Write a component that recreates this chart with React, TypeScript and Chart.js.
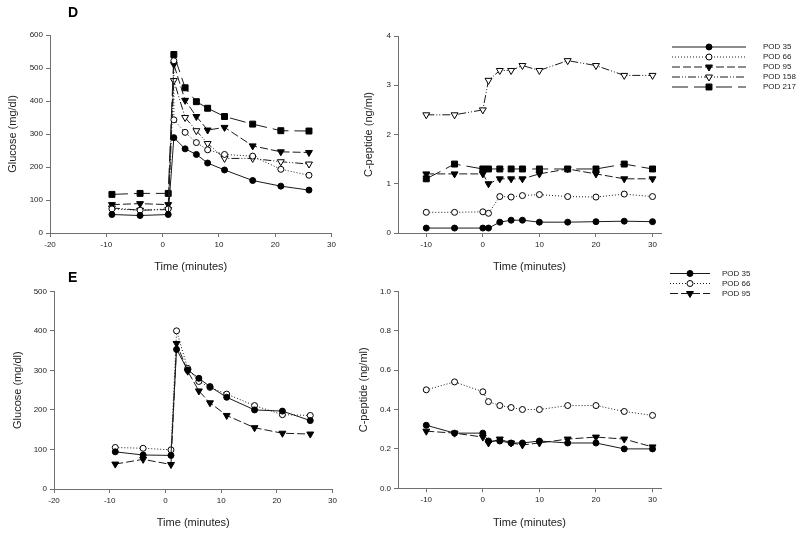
import React, { useEffect, useRef } from "react";
import { Chart, registerables } from "chart.js";
import { drawPoint } from "chart.js/helpers";

Chart.register(...registerables);

// ---------- DATA ----------
const seriesLabels = ["POD 35", "POD 66", "POD 95", "POD 158", "POD 217"];

// Panel D – glucose
const glucoseTimesD = [-9, -4, 1, 2, 4, 6, 8, 11, 16, 21, 26];
const glucoseTimesD66 = [-9, -4, 1, 2, 2, 4, 6, 8, 11, 16, 21, 26];
const glucoseD35 = [56, 53, 56, 289, 255, 238, 212, 191, 159, 142, 130];
const glucoseD66 = [73, 69, 73, 522, 343, 305, 274, 252, 238, 233, 193, 175];
const glucoseD95 = [86, 89, 86, 511, 402, 353, 312, 320, 264, 246, 244];
const glucoseD158 = [76, 69, 71, 462, 350, 310, 271, 226, 226, 216, 209];
const glucoseD217 = [117, 120, 120, 541, 440, 398, 378, 353, 330, 310, 309];

// Panel D – C-peptide
const cpepTimes = [-10, -5, 0, 1, 3, 5, 7, 10, 15, 20, 25, 30];
const cpepD35 = [0.1, 0.1, 0.1, 0.1, 0.22, 0.26, 0.26, 0.22, 0.22, 0.23, 0.24, 0.23];
const cpepD66 = [0.42, 0.42, 0.43, 0.4, 0.74, 0.73, 0.76, 0.78, 0.74, 0.73, 0.79, 0.74];
const cpepD95 = [1.2, 1.2, 1.2, 1.0, 1.1, 1.1, 1.1, 1.2, 1.3, 1.2, 1.1, 1.1];
const cpepD158 = [2.4, 2.4, 2.5, 3.1, 3.3, 3.3, 3.4, 3.3, 3.5, 3.4, 3.2, 3.2];
const cpepD217 = [1.1, 1.4, 1.3, 1.3, 1.3, 1.3, 1.3, 1.3, 1.3, 1.3, 1.4, 1.3];

// Panel E – glucose
const glucoseTimesE = [-9, -4, 1, 2, 4, 6, 8, 11, 16, 21, 26];
const glucoseE35 = [94, 86, 85, 353, 301, 280, 259, 232, 200, 197, 173];
const glucoseE66 = [105, 103, 99, 400, 305, 272, 257, 240, 211, 188, 186];
const glucoseE95 = [63, 75, 62, 368, 298, 248, 218, 186, 155, 141, 139];

// Panel E – C-peptide
const cpepE35 = [0.32, 0.28, 0.28, 0.24, 0.24, 0.23, 0.23, 0.24, 0.23, 0.23, 0.2, 0.2];
const cpepE66 = [0.5, 0.54, 0.49, 0.44, 0.42, 0.41, 0.4, 0.4, 0.42, 0.42, 0.39, 0.37];
const cpepE95 = [0.29, 0.28, 0.26, 0.23, 0.25, 0.23, 0.22, 0.23, 0.25, 0.26, 0.25, 0.21];

// Tick values
const glucoseXTicks = [-20, -10, 0, 10, 20, 30];
const cpepXTicks = [-10, 0, 10, 20, 30];
const glucoseYTicksD = [0, 100, 200, 300, 400, 500, 600];
const cpepYTicksD = [0, 1, 2, 3, 4];
const glucoseYTicksE = [0, 100, 200, 300, 400, 500];
const cpepYTicksE = [0, 0.2, 0.4, 0.6, 0.8, 1.0];

// ---------- STYLES ----------
const FONT = "'Liberation Sans', Arial, Helvetica, sans-serif";
const LINE = "#1a1a1a";
const AXIS = "#707070";
const TEXT = "#222";

const seriesStyles: Record<string, any> = {
  "POD 35": { dash: [], pointStyle: "circle", fill: "#000", radius: 3, rotation: 0 },
  "POD 66": { dash: [1, 2], pointStyle: "circle", fill: "#fff", radius: 3, rotation: 0 },
  "POD 95": { dash: [8, 3], pointStyle: "triangle", fill: "#000", radius: 4, rotation: 180 },
  "POD 158": { dash: [8, 2, 1, 2, 1, 2], pointStyle: "triangle", fill: "#fff", radius: 4, rotation: 180 },
  "POD 217": { dash: [16, 6], pointStyle: "rect", fill: "#000", radius: 4.2, rotation: 0 },
};

function makeDataset(label: string, xs: number[], ys: number[]) {
  const s = seriesStyles[label];
  return {
    label,
    data: xs.map((x, i) => ({ x, y: ys[i] })),
    borderColor: LINE,
    borderWidth: 1,
    borderDash: s.dash,
    pointStyle: s.pointStyle,
    pointRotation: s.rotation,
    pointRadius: s.radius,
    pointBackgroundColor: s.fill,
    pointBorderColor: "#000",
    pointBorderWidth: 1,
    tension: 0,
    fill: false,
  };
}

const lineLegendPlugin = {
  id: "lineLegend",
  afterDraw(chart: any, _args: any, opts: any) {
    if (!opts || !opts.rows) return;
    const { ctx } = chart;
    chart.data.datasets.forEach((ds: any, i: number) => {
      const y = opts.rows[i];
      ctx.save();
      ctx.strokeStyle = ds.borderColor;
      ctx.lineWidth = 1;
      ctx.setLineDash(ds.borderDash || []);
      ctx.beginPath();
      ctx.moveTo(opts.x1, y);
      ctx.lineTo(opts.x2, y);
      ctx.stroke();
      ctx.setLineDash([]);
      ctx.fillStyle = ds.pointBackgroundColor;
      ctx.strokeStyle = ds.pointBorderColor;
      ctx.lineWidth = 1;
      drawPoint(ctx, { pointStyle: ds.pointStyle, rotation: ds.pointRotation, radius: ds.pointRadius, borderWidth: 1 } as any, (opts.x1 + opts.x2) / 2, y);
      ctx.fillStyle = TEXT;
      ctx.font = `8px ${FONT}`;
      ctx.textBaseline = "middle";
      ctx.textAlign = "left";
      ctx.fillText(ds.label, opts.tx, y);
      ctx.restore();
    });
  },
};

const letterPlugin = {
  id: "panelLetter",
  afterDraw(chart: any, _args: any, opts: any) {
    if (!opts || !opts.text) return;
    const { ctx } = chart;
    ctx.save();
    ctx.fillStyle = "#000";
    ctx.font = `bold 14px ${FONT}`;
    ctx.textBaseline = "middle";
    ctx.textAlign = "left";
    ctx.fillText(opts.text, opts.x, opts.y);
    ctx.restore();
  },
};

function makeConfig(p: any) {
  return {
    type: "line",
    data: { datasets: p.datasets },
    plugins: [lineLegendPlugin, letterPlugin],
    options: {
      animation: false,
      responsive: false,
      layout: { padding: { left: 0, top: p.top, right: p.right, bottom: p.bottom } },
      plugins: {
        legend: { display: false },
        tooltip: { enabled: false },
        lineLegend: p.legend || {},
        panelLetter: p.letter || {},
      },
      scales: {
        x: {
          type: "linear",
          min: p.xMin,
          max: p.xMax,
          afterBuildTicks: (s: any) => {
            s.ticks = p.xTicks.map((v: number) => ({ value: v }));
          },
          afterFit: (s: any) => {
            s.height = p.xHeight;
          },
          grid: { display: true, drawOnChartArea: false, drawTicks: true, tickLength: 4, color: AXIS, lineWidth: 1 },
          border: { display: true, color: AXIS, width: 1 },
          ticks: { font: { size: 8, family: FONT }, color: TEXT, padding: 3, maxRotation: 0, autoSkip: false },
          title: { display: true, text: "Time (minutes)", font: { size: 11, family: FONT }, color: TEXT, padding: 0 },
        },
        y: {
          type: "linear",
          min: p.yMin,
          max: p.yMax,
          afterBuildTicks: (s: any) => {
            s.ticks = p.yTicks.map((v: number) => ({ value: v }));
          },
          afterFit: (s: any) => {
            s.width = p.yWidth;
          },
          grid: { display: true, drawOnChartArea: false, drawTicks: true, tickLength: 4, color: AXIS, lineWidth: 1 },
          border: { display: true, color: AXIS, width: 1 },
          ticks: {
            font: { size: 8, family: FONT },
            color: TEXT,
            padding: 3,
            autoSkip: false,
            callback: (v: any) => Number(v).toFixed(p.yDecimals),
          },
          title: { display: true, text: p.yTitle, font: { size: 11, family: FONT }, color: TEXT, padding: { top: p.yTitlePad, bottom: 0 } },
        },
      },
    },
  };
}

function Panel({ left, top, width, height, params }: any) {
  const ref = useRef<HTMLCanvasElement>(null);
  useEffect(() => {
    const chart = new Chart(ref.current as HTMLCanvasElement, makeConfig(params) as any);
    return () => chart.destroy();
  }, []);
  return (
    <canvas
      ref={ref}
      width={width}
      height={height}
      style={{ position: "absolute", left, top, width, height }}
    />
  );
}

export default function App() {
  const dGlucose = {
    datasets: [
      makeDataset("POD 35", glucoseTimesD, glucoseD35),
      makeDataset("POD 66", glucoseTimesD66, glucoseD66),
      makeDataset("POD 95", glucoseTimesD, glucoseD95),
      makeDataset("POD 158", glucoseTimesD, glucoseD158),
      makeDataset("POD 217", glucoseTimesD, glucoseD217),
    ],
    xMin: -20, xMax: 30, xTicks: glucoseXTicks,
    yMin: 0, yMax: 600, yTicks: glucoseYTicksD, yDecimals: 0,
    yTitle: "Glucose (mg/dl)",
    top: 35, right: 8.5, bottom: 6.9, xHeight: 40.1, yWidth: 50, yTitlePad: 6.2,
    letter: { text: "D", x: 68, y: 13 },
  };
  const dCpep = {
    datasets: [
      makeDataset("POD 35", cpepTimes, cpepD35),
      makeDataset("POD 66", cpepTimes, cpepD66),
      makeDataset("POD 95", cpepTimes, cpepD95),
      makeDataset("POD 158", cpepTimes, cpepD158),
      makeDataset("POD 217", cpepTimes, cpepD217),
    ],
    xMin: -15, xMax: 31.5, xTicks: cpepXTicks,
    yMin: 0, yMax: 4, yTicks: cpepYTicksD, yDecimals: 0,
    yTitle: "C-peptide (ng/ml)",
    top: 36, right: 139, bottom: 6.9, xHeight: 40.1, yWidth: 58, yTitlePad: 22.4,
    legend: { x1: 332, x2: 406, tx: 423, rows: [47, 57, 67, 77, 87] },
  };
  const eGlucose = {
    datasets: [
      makeDataset("POD 35", glucoseTimesE, glucoseE35),
      makeDataset("POD 66", glucoseTimesE, glucoseE66),
      makeDataset("POD 95", glucoseTimesE, glucoseE95),
    ],
    xMin: -20, xMax: 30, xTicks: glucoseXTicks,
    yMin: 0, yMax: 500, yTicks: glucoseYTicksE, yDecimals: 0,
    yTitle: "Glucose (mg/dl)",
    top: 21.3, right: 6, bottom: 7.1, xHeight: 40.9, yWidth: 54, yTitlePad: 11.5,
    letter: { text: "E", x: 68, y: 8.5 },
  };
  const eCpep = {
    datasets: [
      makeDataset("POD 35", cpepTimes, cpepE35),
      makeDataset("POD 66", cpepTimes, cpepE66),
      makeDataset("POD 95", cpepTimes, cpepE95),
    ],
    xMin: -15, xMax: 31.5, xTicks: cpepXTicks,
    yMin: 0, yMax: 1.0, yTicks: cpepYTicksE, yDecimals: 1,
    yTitle: "C-peptide (ng/ml)",
    top: 21.3, right: 139, bottom: 7.1, xHeight: 41.6, yWidth: 58, yTitlePad: 17.1,
    legend: { x1: 330, x2: 370, tx: 382, rows: [3.5, 13.5, 23.5] },
  };

  return (
    <div style={{ position: "absolute", left: 0, top: 0, width: 800, height: 537, background: "#fff", overflow: "hidden" }}>
      <Panel left={0} top={0} width={340} height={280} params={dGlucose} />
      <Panel left={340} top={0} width={460} height={280} params={dCpep} />
      <Panel left={0} top={270} width={340} height={267} params={eGlucose} />
      <Panel left={340} top={270} width={460} height={267} params={eCpep} />
    </div>
  );
}
